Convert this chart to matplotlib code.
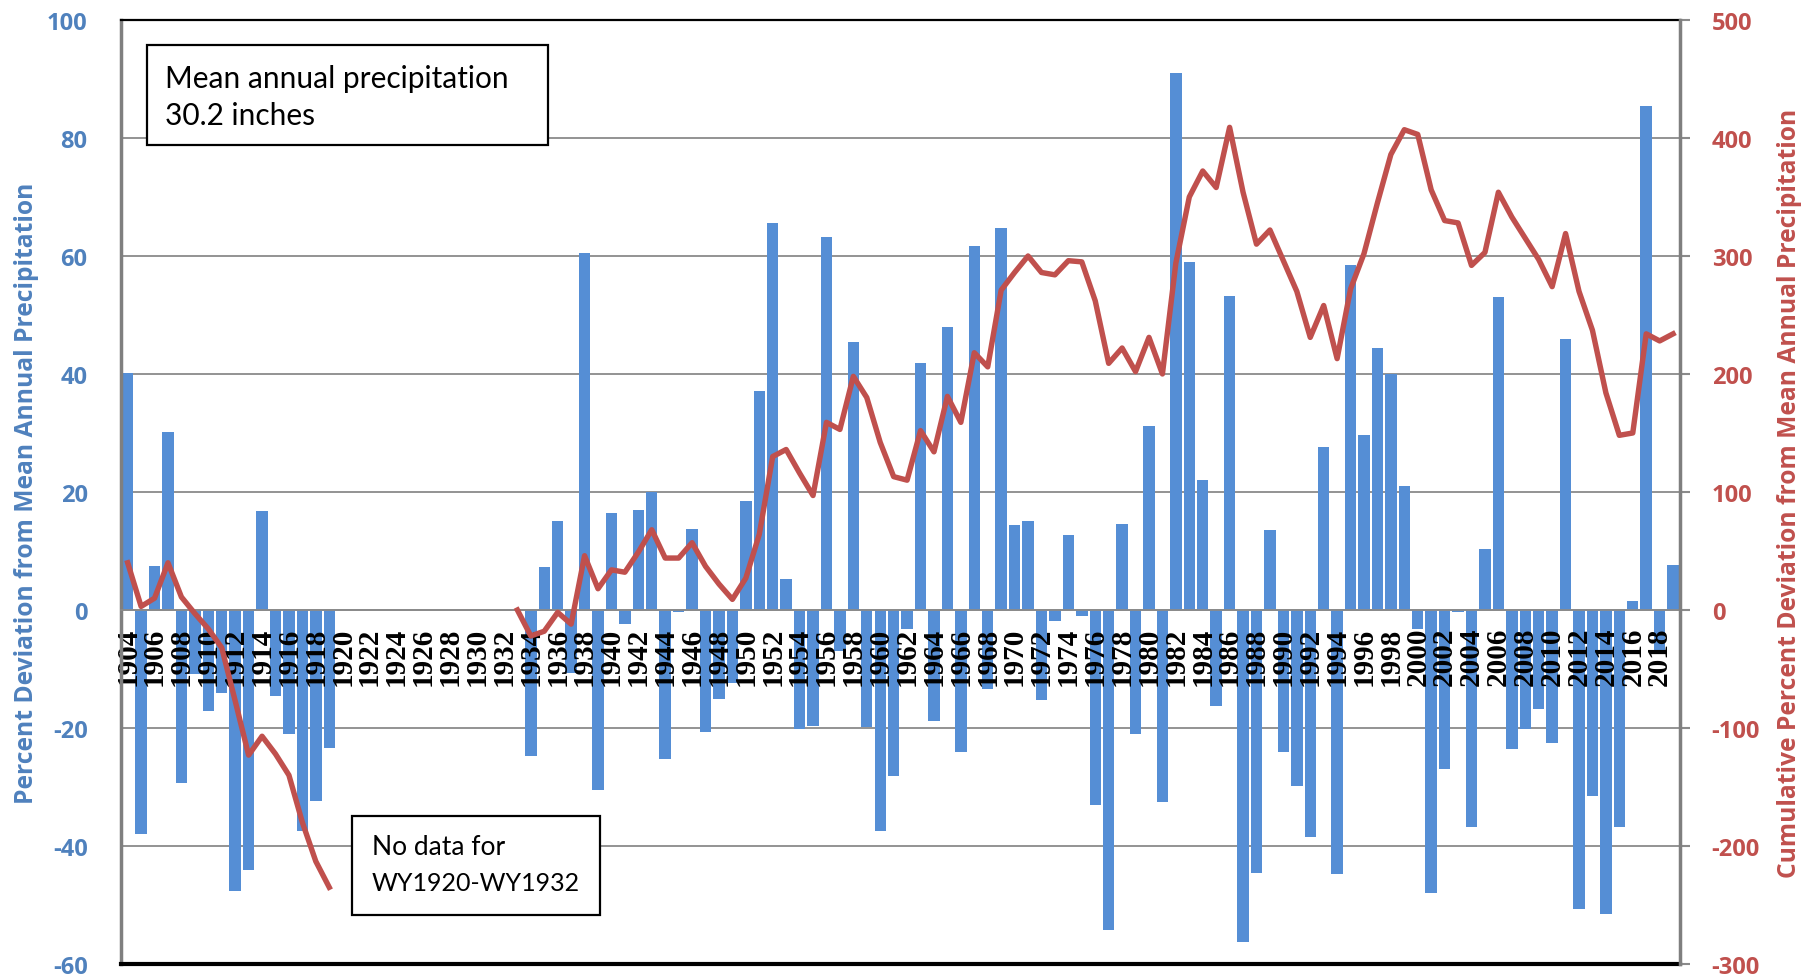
import numpy as np
import matplotlib.pyplot as plt
from matplotlib.patches import Rectangle

plt.rcParams['axes.unicode_minus'] = False

# percent deviation from mean annual precipitation, WY1904-WY1919
years_early = list(range(1904, 1920))
dev_early = [40.1, -37.9, 7.4, 30.2, -29.3, -10.9, -17.2, -14.1,
             -47.6, -44.0, 16.7, -14.6, -21.1, -37.5, -32.4, -23.4]
cum_early = [40, 3, 10, 40, 11, -3, -16, -32,
             -77, -123, -107, -122, -140, -180, -213, -235]

# WY1933-WY2019
years_late = list(range(1933, 2020))
dev_late = [0.0, -24.7, 7.2, 15.0, -10.6, 60.5, -30.5, 16.5, -2.3, 16.9,
            20.0, -25.3, -0.3, 13.8, -20.7, -15.1, -12.4, 18.5, 37.1, 65.6,
            5.3, -20.1, -19.6, 63.2, -7.0, 45.5, -19.8, -37.4, -28.1, -3.2,
            41.9, -18.9, 47.9, -24.1, 61.7, -13.4, 64.7, 14.4, 15.0, -15.3,
            -1.8, 12.7, -1.1, -33.1, -54.2, 14.6, -21.0, 31.2, -32.6, 91.0,
            58.9, 22.1, -16.2, 53.2, -56.3, -44.6, 13.5, -24.1, -29.9, -38.5,
            27.6, -44.7, 58.5, 29.6, 44.4, 40.0, 21.0, -3.3, -47.9, -26.9,
            -0.3, -36.8, 10.3, 53.0, -23.6, -20.1, -16.7, -22.6, 46.0, -50.6,
            -31.5, -51.6, -36.8, 1.5, 85.5, -7.2, 7.6]
cum_late = [0, -22, -18, -2, -12, 46, 18, 34, 32, 49,
            68, 44, 44, 57, 37, 22, 9, 27, 64, 130,
            136, 116, 97, 159, 153, 198, 180, 142, 113, 110,
            152, 134, 181, 159, 218, 206, 271, 286, 300, 286,
            284, 296, 295, 262, 209, 222, 202, 231, 200, 294,
            350, 372, 358, 409, 354, 310, 322, 296, 270, 231,
            258, 213, 272, 302, 345, 386, 407, 403, 356, 330,
            328, 292, 303, 354, 333, 315, 297, 274, 319, 270,
            237, 184, 148, 150, 234, 228, 234]

tick_years = list(range(1904, 2020, 2))

blue_bar = '#558ED5'
blue_txt = '#4F81BD'
red = '#C0504D'
grid_c = '#8A8A8A'
sans = 'Open Sans'

fig = plt.figure(figsize=(18.16, 9.79), dpi=100)
ax1 = fig.add_axes([0.0666, 0.0143, 0.8584, 0.9643])
ax2 = ax1.twinx()

ax1.set_xlim(1903.5, 2019.5)
ax1.set_ylim(-60, 100)
ax1.set_yticks(np.arange(-60, 101, 20))
for v in ax1.get_yticks():
    ax1.axhline(v, color=grid_c, lw=1.3, zorder=0.5)
ax1.bar(years_early, dev_early, width=0.85, color=blue_bar, zorder=1)
ax1.bar(years_late, dev_late, width=0.85, color=blue_bar, zorder=1)

ax1.spines['bottom'].set_position(('data', 0))
ax1.spines['bottom'].set_color(grid_c)
ax1.spines['bottom'].set_linewidth(1.3)
ax1.spines['left'].set_color('#7F7F7F')
ax1.spines['left'].set_linewidth(2.5)
ax1.spines['top'].set_color('black')
ax1.spines['top'].set_linewidth(1.6)
ax1.spines['right'].set_visible(False)
ax1.axhline(-60, color='black', lw=3, clip_on=False, zorder=5)

ax1.set_xticks(tick_years)
ax1.set_xticklabels([str(y) for y in tick_years], rotation=90,
                    family='Liberation Serif', fontweight='bold', fontsize=21)
ax1.tick_params(axis='x', length=0, pad=12)
ax1.tick_params(axis='y', length=0, pad=24, labelsize=17, labelcolor=blue_txt)
for t in ax1.get_yticklabels():
    t.set_fontweight('bold')
    t.set_family(sans)
ax1.set_ylabel('Percent Deviation from Mean Annual Precipitation', color=blue_txt,
               fontsize=17.7, fontweight='bold', family=sans, labelpad=6)

ax2.plot(years_early, cum_early, color=red, lw=3.9, solid_joinstyle='round')
ax2.plot(years_late, cum_late, color=red, lw=3.9, solid_joinstyle='round')
ax2.set_ylim(-300, 500)
ax2.set_yticks(np.arange(-300, 501, 100))
for s in ['left', 'top', 'bottom']:
    ax2.spines[s].set_visible(False)
ax2.spines['right'].set_color('#7F7F7F')
ax2.spines['right'].set_linewidth(2.5)
ax2.tick_params(axis='y', direction='out', length=7, width=1.5, color=grid_c,
                pad=16, labelsize=17, labelcolor=red)
for t in ax2.get_yticklabels():
    t.set_fontweight('bold')
    t.set_family(sans)
ax2.set_ylabel('Cumulative Percent Deviation from Mean Annual Precipitation',
               color=red, fontsize=17.7, fontweight='bold', family=sans,
               labelpad=12)

# annotation boxes
fig.patches.append(Rectangle((0.0809, 0.8509), 0.2208, 0.1021, transform=fig.transFigure,
                             facecolor='white', edgecolor='black', lw=1.6, zorder=10))
fig.text(0.0909, 0.9101, 'Mean annual precipitation', fontsize=21.5, family='Lato',
         va='baseline', zorder=11)
fig.text(0.0909, 0.8723, '30.2 inches', fontsize=21.5, family='Lato',
         va='baseline', zorder=11)

fig.patches.append(Rectangle((0.1938, 0.0644), 0.1366, 0.1011, transform=fig.transFigure,
                             facecolor='white', edgecolor='black', lw=1.6, zorder=10))
fig.text(0.2048, 0.1267, 'No data for', fontsize=19, family='Lato',
         va='baseline', zorder=11)
fig.text(0.2048, 0.0899, 'WY1920-WY1932', fontsize=18, family='Lato',
         va='baseline', zorder=11)

fig.savefig('out.png', dpi=100)
